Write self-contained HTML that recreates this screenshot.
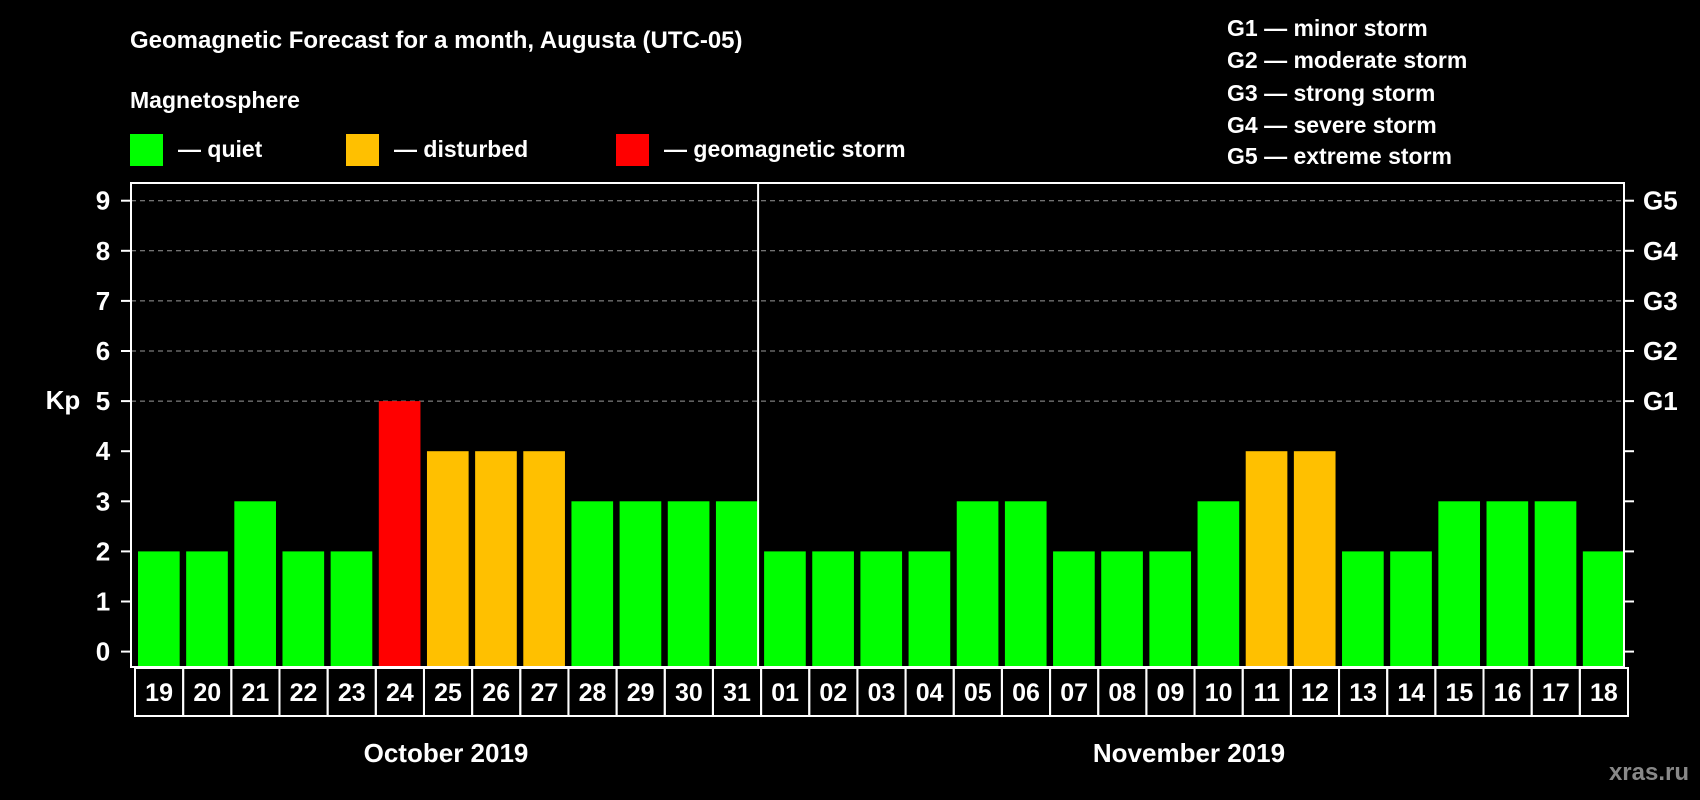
<!DOCTYPE html>
<html><head><meta charset="utf-8"><style>
html,body{margin:0;padding:0;background:#000;}
svg{display:block;font-family:"Liberation Sans",Arial,sans-serif;font-weight:bold;}
</style></head><body>
<svg id="chart" width="1700" height="800" viewBox="0 0 1700 800" xmlns="http://www.w3.org/2000/svg">
<rect width="1700" height="800" fill="#000"/>
<text x="130" y="48" fill="#fff" font-size="24">Geomagnetic Forecast for a month, Augusta (UTC-05)</text>
<text x="130" y="108" fill="#fff" font-size="23">Magnetosphere</text>
<g><rect x="130" y="134" width="33" height="32" fill="#00ff00"/><text x="178" y="157" fill="#fff" font-size="23">— quiet</text></g>
<g><rect x="346" y="134" width="33" height="32" fill="#ffc000"/><text x="394" y="157" fill="#fff" font-size="23">— disturbed</text></g>
<g><rect x="616" y="134" width="33" height="32" fill="#ff0000"/><text x="664" y="157" fill="#fff" font-size="23">— geomagnetic storm</text></g>
<g fill="#fff" font-size="23">
<text x="1227" y="36">G1 — minor storm</text>
<text x="1227" y="68">G2 — moderate storm</text>
<text x="1227" y="101">G3 — strong storm</text>
<text x="1227" y="133">G4 — severe storm</text>
<text x="1227" y="164">G5 — extreme storm</text>
</g>
<text x="63" y="409" fill="#fff" font-size="26" text-anchor="middle">Kp</text>
<g id="plot"></g>
<text x="446" y="762" fill="#fff" font-size="26" text-anchor="middle">October 2019</text>
<text x="1189" y="762" fill="#fff" font-size="26" text-anchor="middle">November 2019</text>
<text x="1689" y="780" fill="#888" font-size="24" text-anchor="end">xras.ru</text>
</svg>
<script>
const days = ["19","20","21","22","23","24","25","26","27","28","29","30","31","01","02","03","04","05","06","07","08","09","10","11","12","13","14","15","16","17","18"];
const kpValues = [2,2,3,2,2,5,4,4,4,3,3,3,3,2,2,2,2,3,3,2,2,2,3,4,4,2,2,3,3,3,2];
const yTicks = [0,1,2,3,4,5,6,7,8,9];
const gLabels = ["G1","G2","G3","G4","G5"];
const gLevels = [5,6,7,8,9];
const monthSplitIndex = 13;

const NS="http://www.w3.org/2000/svg";
const L=131,R=1624,T=183,B=667;
const step=(R-L)/days.length;
function x(i){return L+i*step;}
function y(v){return 651.6-v*50.1;}
function mk(tag,attrs,parent){const e=document.createElementNS(NS,tag);for(const k in attrs)e.setAttribute(k,attrs[k]);parent.appendChild(e);return e;}
function color(v){return v>=5?"#ff0000":(v>=4?"#ffc000":"#00ff00");}
const g=document.getElementById("plot");
// grid
gLevels.forEach(v=>{
  const ln=mk("line",{x1:L,x2:R,y1:y(v),y2:y(v),stroke:"#999","stroke-width":1,"stroke-dasharray":"5,4"},g);
  
  
});
// bars
kpValues.forEach((v,i)=>{
  const r=mk("rect",{x:x(i)+7,y:y(v),width:step-6.5,height:B-y(v),fill:color(v)},g);
  
  
});
// frame
const fr=mk("rect",{x:L,y:T,width:R-L,height:B-T,fill:"none",stroke:"#fff","stroke-width":2},g);


const dv=mk("line",{x1:x(monthSplitIndex)+1,x2:x(monthSplitIndex)+1,y1:T,y2:B,stroke:"#fff","stroke-width":2},g);


// y ticks
yTicks.forEach(v=>{
  const t=mk("line",{x1:L-10,x2:L,y1:y(v),y2:y(v),stroke:"#fff","stroke-width":2},g);
  
  
  const t2=mk("line",{x1:R,x2:R+10,y1:y(v),y2:y(v),stroke:"#fff","stroke-width":2},g);
  
  
  const lb=mk("text",{x:103,y:y(v)+9,fill:"#fff","font-size":26,"text-anchor":"middle"},g);
  lb.textContent=v;
  
  
});
gLabels.forEach((s,i)=>{
  const lb=mk("text",{x:1643,y:y(gLevels[i])+9,fill:"#fff","font-size":26},g);
  lb.textContent=s;
  
  
});
// date boxes
days.forEach((d,i)=>{
  const bx=mk("rect",{x:x(i)+4,y:B+1,width:step,height:48,fill:"none",stroke:"#fff","stroke-width":2},g);
  
  
  const t=mk("text",{x:x(i)+4+step/2,y:B+34,fill:"#fff","font-size":25,"text-anchor":"middle"},g);
  t.textContent=d;
  
  
});
</script>
</body></html>
